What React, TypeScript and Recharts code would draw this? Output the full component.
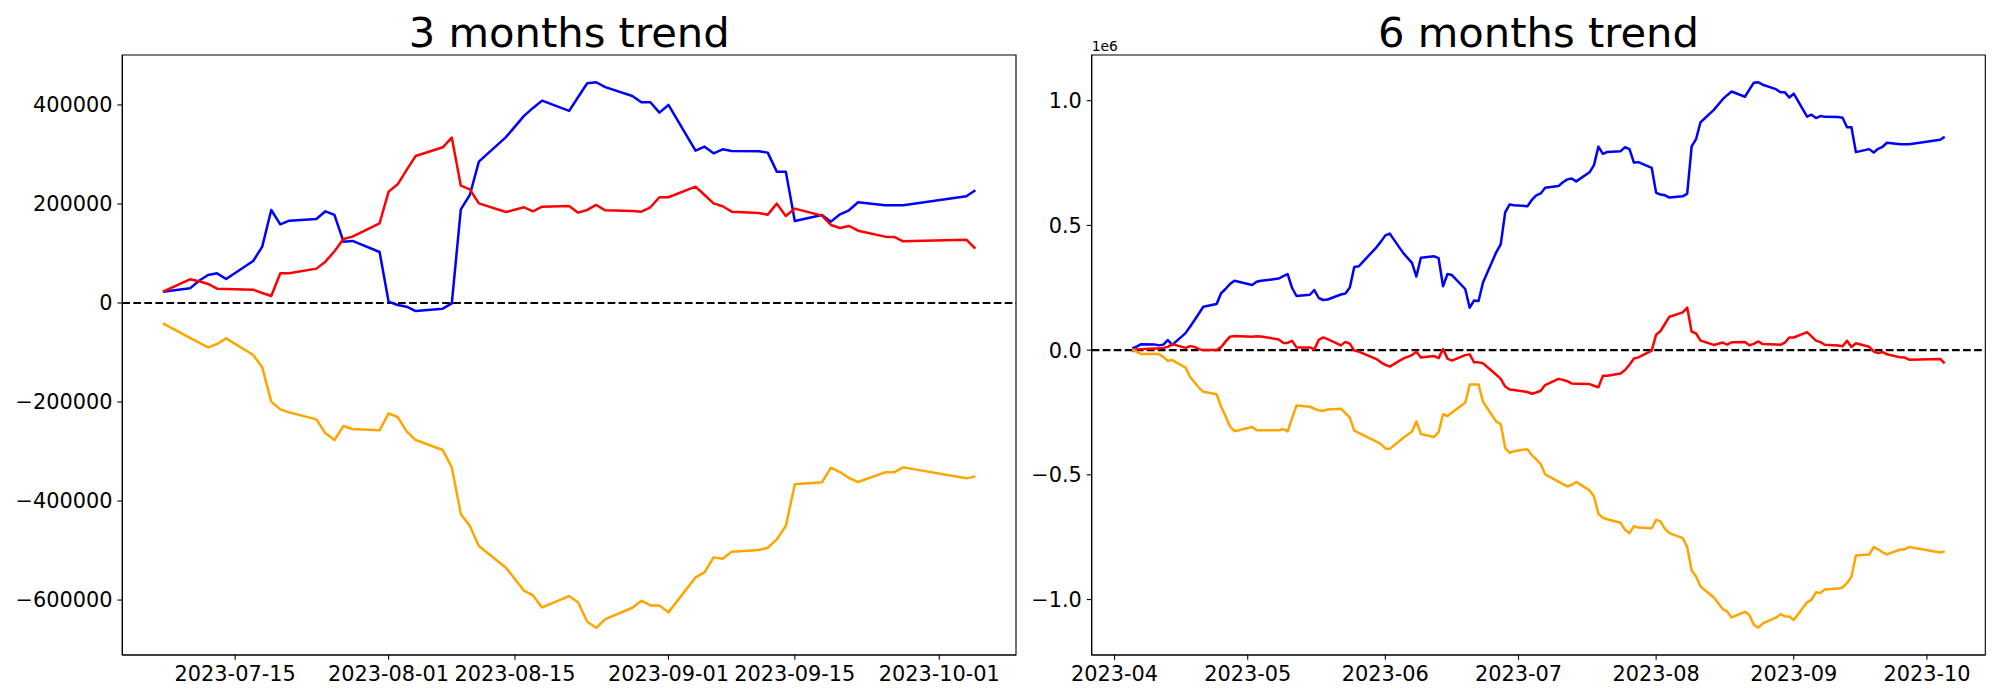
import React from 'react';
import { LineChart, Line, XAxis, YAxis, ReferenceLine, ReferenceArea } from 'recharts';

const FONT = 'DejaVu Sans';

// ---------- 3 months panel ----------
const leftDates = [
  '2023-07-07','2023-07-10','2023-07-11','2023-07-12','2023-07-13','2023-07-14','2023-07-17','2023-07-18','2023-07-19','2023-07-20','2023-07-21','2023-07-24','2023-07-25','2023-07-26','2023-07-27','2023-07-28','2023-07-31',
  '2023-08-01','2023-08-02','2023-08-03','2023-08-04','2023-08-07','2023-08-08','2023-08-09','2023-08-10','2023-08-11','2023-08-14','2023-08-16','2023-08-17','2023-08-18','2023-08-21','2023-08-22','2023-08-23','2023-08-24','2023-08-25','2023-08-28','2023-08-29','2023-08-30','2023-08-31',
  '2023-09-01','2023-09-04','2023-09-05','2023-09-06','2023-09-07','2023-09-08','2023-09-11','2023-09-12','2023-09-13','2023-09-14','2023-09-15','2023-09-18','2023-09-19','2023-09-20','2023-09-21','2023-09-22','2023-09-25','2023-09-26','2023-09-27',
  '2023-10-04','2023-10-05',
];
const leftBlue = [
  22900, 29600, 45000, 56600, 59900, 48500, 84800, 113800, 187900, 158900, 166300, 169700, 185200, 177800, 123900, 125300, 103000,
  2700, -4000, -7400, -16200, -11400, -700, 189200, 218200, 285500, 335000, 378000, 394000, 408700, 387900, 416000, 443800, 445800, 436000, 418200, 405400, 405400, 384500,
  400000, 307700, 315800, 302400, 310400, 307100, 306400, 303700, 265300, 265300, 165700, 177800, 164300, 179100, 187200, 203400, 197300, 197300, 197300,
  215500, 227600,
];
const leftRed = [
  22900, 47800, 43800, 38400, 29000, 28300, 26900, 20200, 14100, 59900, 59900, 69400, 83500, 104400, 129300, 134000, 161000,
  224900, 239700, 268700, 297000, 314500, 334000, 237000, 229600, 201300, 183800, 193300, 185200, 194600, 196000, 182500, 187900, 198000, 187200, 185900, 184500, 193300, 213500,
  213500, 235000, 218200, 201300, 195300, 184500, 181800, 178400, 200700, 175800, 190600, 176400, 157600, 151500, 155600, 146100, 134000, 133300, 124600,
  127900, 109800,
];
const leftOrange = [
  -41100, -70400, -80000, -89600, -82800, -71400, -105100, -130000, -199300, -214800, -220900, -235000, -263300, -276800, -248500, -254500, -257200,
  -222900, -230300, -259300, -276800, -297000, -332000, -426300, -450500, -490900, -534700, -581100, -590600, -614800, -592000, -605000, -643800, -655900, -638400, -615500, -601300, -610800, -610800,
  -624900, -554200, -544100, -513800, -516500, -502400, -499000, -494300, -477400, -450500, -366300, -362300, -332700, -341400, -353500, -361600, -342100, -342100, -332000,
  -354200, -350200,
];
const leftXTicks = ['2023-07-15', '2023-08-01', '2023-08-15', '2023-09-01', '2023-09-15', '2023-10-01'];
const leftYTicks = [-600000, -400000, -200000, 0, 200000, 400000];

// ---------- 6 months panel ----------
const rightEarlyDates = [
  '2023-04-05','2023-04-06','2023-04-07','2023-04-10','2023-04-11','2023-04-12','2023-04-13','2023-04-14','2023-04-17','2023-04-18','2023-04-19','2023-04-20','2023-04-21','2023-04-24','2023-04-25','2023-04-26','2023-04-27','2023-04-28',
  '2023-05-02','2023-05-03','2023-05-04','2023-05-08','2023-05-09','2023-05-10','2023-05-11','2023-05-12','2023-05-15','2023-05-16','2023-05-17','2023-05-18','2023-05-19','2023-05-22','2023-05-23','2023-05-24','2023-05-25','2023-05-26','2023-05-30','2023-05-31',
  '2023-06-01','2023-06-02','2023-06-05','2023-06-07','2023-06-08','2023-06-09','2023-06-12','2023-06-13','2023-06-14','2023-06-15','2023-06-16','2023-06-19','2023-06-20','2023-06-21','2023-06-22','2023-06-23','2023-06-26','2023-06-27','2023-06-28','2023-06-29','2023-06-30',
  '2023-07-03','2023-07-04','2023-07-05','2023-07-06',
];
const rightDates = [...rightEarlyDates, ...leftDates];
const rightBlue = [
  7000, 14000, 24000, 23000, 19000, 22000, 40000, 21000, 68000, 94000, 120000, 147000, 174000, 185000, 228000, 245000, 265000, 278000,
  261000, 274000, 278000, 287000, 297000, 305000, 249000, 217000, 222000, 241000, 209000, 201000, 203000, 223000, 227000, 251000, 333000, 336000, 412000, 435000,
  460000, 467000, 390000, 350000, 295000, 370000, 376000, 369000, 256000, 305000, 301000, 245000, 170000, 199000, 197000, 271000, 393000, 425000, 552000, 584000, 581000,
  577000, 602000, 620000, 628000,
  650900, 657600, 673000, 684600, 687900, 676500, 712800, 741800, 815900, 786900, 794300, 797700, 813200, 805800, 751900, 753300, 731000,
  630700, 624000, 620600, 611800, 616600, 627300, 817200, 846200, 913500, 963000, 1006000, 1022000, 1036700, 1015900, 1044000, 1071800, 1073800, 1064000, 1046200, 1033400, 1033400, 1012500,
  1028000, 935700, 943800, 930400, 938400, 935100, 934400, 931700, 893300, 893300, 793700, 805800, 792300, 807100, 815200, 831400, 825300, 825300, 825300,
  843500, 855600,
];
const rightRed = [
  -5000, 3000, 4000, 7000, 7000, 9000, 13000, 24000, 9000, 16000, 13000, 4000, 0, 0, 12000, 34000, 54000, 57000,
  54000, 56000, 55000, 43000, 29000, 29000, 37000, 11000, 11000, 3000, 41000, 51000, 44000, 19000, 33000, 26000, -2000, -6000, -36000, -49000,
  -59000, -66000, -34000, -20000, -6000, -30000, -24000, -32000, 4000, -34000, -42000, -20000, -17000, -49000, -49000, -53000, -99000, -115000, -146000, -158000, -160000,
  -168000, -175000, -170000, -163000,
  -140100, -115200, -119200, -124600, -134000, -134700, -136100, -142800, -148900, -103100, -103100, -93600, -79500, -58600, -33700, -29000, -2000,
  61900, 76700, 105700, 134000, 151500, 171000, 74000, 66600, 38300, 20800, 30300, 22200, 31600, 33000, 19500, 24900, 35000, 24200, 22900, 21500, 30300, 50500,
  50500, 72000, 55200, 38300, 32300, 21500, 18800, 15400, 37700, 12800, 27600, 13400, -5400, -11500, -7400, -16900, -29000, -29700, -38400,
  -35100, -53200,
];
const rightOrange = [
  3000, -7000, -16000, -16000, -16000, -27000, -43000, -40000, -70000, -107000, -129000, -150000, -167000, -177000, -227000, -264000, -306000, -325000,
  -308000, -321000, -321000, -321000, -317000, -326000, -272000, -222000, -227000, -235000, -241000, -243000, -238000, -235000, -253000, -271000, -323000, -332000, -367000, -377000,
  -394000, -396000, -352000, -326000, -286000, -336000, -348000, -329000, -257000, -264000, -250000, -211000, -138000, -138000, -138000, -207000, -287000, -297000, -392000, -412000, -405000,
  -397000, -421000, -438000, -457000,
  -498100, -527400, -537000, -546600, -539800, -528400, -562100, -587000, -656300, -671800, -677900, -692000, -720300, -733800, -705500, -711500, -714200,
  -679900, -687300, -716300, -733800, -754000, -789000, -883300, -907500, -947900, -991700, -1038100, -1047600, -1071800, -1049000, -1062000, -1100800, -1112900, -1095400, -1072500, -1058300, -1067800, -1067800,
  -1081900, -1011200, -1001100, -970800, -973500, -959400, -956000, -951300, -934400, -907500, -823300, -819300, -789700, -798400, -810500, -818600, -799100, -799100, -789000,
  -811200, -807200,
];
const rightXTicks = ['2023-04-01', '2023-05-01', '2023-06-01', '2023-07-01', '2023-08-01', '2023-09-01', '2023-10-01'];
const rightYTicks = [-1000000, -500000, 0, 500000, 1000000];

const COLORS = { blue: '#0000ff', red: '#ff0000', orange: '#ffa500' };

const toTs = (s: string) => {
  const [y, m, d] = s.split('-').map(Number);
  return Date.UTC(y, m - 1, d);
};
const pad2 = (n: number) => String(n).padStart(2, '0');
const fmtDay = (t: number) => {
  const d = new Date(t);
  return `${d.getUTCFullYear()}-${pad2(d.getUTCMonth() + 1)}-${pad2(d.getUTCDate())}`;
};
const fmtMonth = (t: number) => {
  const d = new Date(t);
  return `${d.getUTCFullYear()}-${pad2(d.getUTCMonth() + 1)}`;
};
const minus = (s: string) => s.replace('-', '\u2212');
const fmtInt = (v: number) => minus(String(v));
const fmtMega = (v: number) => minus((v / 1e6).toFixed(1));

function buildRows(dates: string[], b: number[], r: number[], o: number[]) {
  return dates.map((d, i) => ({ t: toTs(d), blue: b[i], red: r[i], orange: o[i] }));
}
function padded(vals: number[]): [number, number] {
  const mn = Math.min(...vals);
  const mx = Math.max(...vals);
  const r = mx - mn;
  return [mn - 0.05 * r, mx + 0.05 * r];
}

const leftRows = buildRows(leftDates, leftBlue, leftRed, leftOrange);
const rightRows = buildRows(rightDates, rightBlue, rightRed, rightOrange);

type PanelProps = {
  rows: { t: number; blue: number; red: number; orange: number }[];
  left: number;
  width: number;
  yAxisWidth: number;
  marginRight: number;
  xTicks: number[];
  xFmt: (t: number) => string;
  yTicks: number[];
  yFmt: (v: number) => string;
};

const tickStyle = { fill: '#000', fontSize: 20.83, fontFamily: FONT };
const LW = 2.5;

function Panel({ rows, left, width, yAxisWidth, marginRight, xTicks, xFmt, yTicks, yFmt }: PanelProps) {
  const xDom = padded(rows.map((r) => r.t));
  const yDom = padded(rows.flatMap((r) => [r.blue, r.red, r.orange]));
  return (
    <div style={{ position: 'absolute', left, top: 0, width, height: 700 }}>
      <LineChart width={width} height={700} data={rows} margin={{ top: 55, right: marginRight, bottom: 0, left: 0 }}>
        <XAxis
          dataKey="t"
          type="number"
          domain={xDom}
          allowDataOverflow
          ticks={xTicks}
          interval={0}
          tickFormatter={xFmt}
          height={45}
          tickSize={4.86}
          tickMargin={6}
          tick={tickStyle}
          axisLine={{ stroke: '#000', strokeWidth: 1.1 }}
          tickLine={{ stroke: '#000', strokeWidth: 1.1 }}
        />
        <YAxis
          type="number"
          domain={yDom}
          allowDataOverflow
          ticks={yTicks}
          interval={0}
          tickFormatter={yFmt}
          width={yAxisWidth}
          tickSize={4.86}
          tickMargin={5}
          tick={tickStyle}
          axisLine={{ stroke: '#000', strokeWidth: 1.1 }}
          tickLine={{ stroke: '#000', strokeWidth: 1.1 }}
        />
        <ReferenceArea x1={xDom[0]} x2={xDom[1]} y1={yDom[0]} y2={yDom[1]} fill="none" fillOpacity={0} stroke="#000" strokeWidth={1.1} ifOverflow="visible" />
        <ReferenceLine y={0} stroke="#000" strokeWidth={2.08} strokeDasharray="7.7 3.33" />
        <Line type="linear" dataKey="blue" stroke={COLORS.blue} strokeWidth={LW} strokeLinejoin="round" dot={false} activeDot={false} isAnimationActive={false} />
        <Line type="linear" dataKey="red" stroke={COLORS.red} strokeWidth={LW} strokeLinejoin="round" dot={false} activeDot={false} isAnimationActive={false} />
        <Line type="linear" dataKey="orange" stroke={COLORS.orange} strokeWidth={LW} strokeLinejoin="round" dot={false} activeDot={false} isAnimationActive={false} />
      </LineChart>
    </div>
  );
}

export default function App() {
  return (
    <div style={{ position: 'absolute', left: 0, top: 0, width: 2000, height: 700, background: '#fff', overflow: 'hidden' }}>
      <Panel
        rows={leftRows}
        left={0}
        width={1030}
        yAxisWidth={122.3}
        marginRight={14}
        xTicks={leftXTicks.map(toTs)}
        xFmt={fmtDay}
        yTicks={leftYTicks}
        yFmt={fmtInt}
      />
      <Panel
        rows={rightRows}
        left={1020}
        width={980}
        yAxisWidth={71.67}
        marginRight={14.7}
        xTicks={rightXTicks.map(toTs)}
        xFmt={fmtMonth}
        yTicks={rightYTicks}
        yFmt={fmtMega}
      />
      <svg width={2000} height={700} style={{ position: 'absolute', left: 0, top: 0, pointerEvents: 'none' }}>
        <text x={569.2} y={46.7} textAnchor="middle" fontSize={41.67} fontFamily={FONT} fill="#000">3 months trend</text>
        <text x={1538.5} y={46.7} textAnchor="middle" fontSize={41.67} fontFamily={FONT} fill="#000">6 months trend</text>
        <text x={1091.7} y={51} fontSize={13.9} fontFamily={FONT} fill="#000">1e6</text>
      </svg>
    </div>
  );
}
